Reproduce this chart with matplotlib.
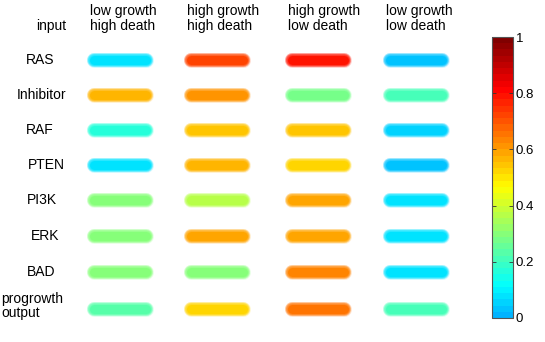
import numpy as np
import matplotlib
matplotlib.use("Agg")
import matplotlib.pyplot as plt
from matplotlib.colors import ListedColormap, Normalize

plt.rcParams['font.family'] = ['Liberation Sans', 'DejaVu Sans']

conditions = ["low growth\nhigh death", "high growth\nhigh death",
              "high growth\nlow death", "low growth\nlow death"]
nodes = ["RAS", "Inhibitor", "RAF", "PTEN", "PI3K", "ERK", "BAD", "progrowth\noutput"]

# activity per node (rows) for each condition (columns)
ras       = [0.08, 0.72, 0.78, 0.04]
inhibitor = [0.57, 0.62, 0.27, 0.20]
raf       = [0.16, 0.55, 0.55, 0.05]
pten      = [0.08, 0.56, 0.53, 0.04]
pi3k      = [0.29, 0.37, 0.59, 0.07]
erk       = [0.29, 0.59, 0.59, 0.07]
bad       = [0.29, 0.29, 0.64, 0.07]
progrowth = [0.24, 0.53, 0.66, 0.20]
values = np.array([ras, inhibitor, raf, pten, pi3k, erk, bad, progrowth])

cbar_ticks = [0, 0.2, 0.4, 0.6, 0.8, 1]
cbar_ticklabels = ["0", "0.2", "0.4", "0.6", "0.8", "1"]

# MATLAB-style jet, truncated at the blue end, banded
def matlab_jet(x):
    x = np.asarray(x)
    r = np.clip(1.5 - np.abs(4 * x - 3), 0, 1)
    g = np.clip(1.5 - np.abs(4 * x - 2), 0, 1)
    b = np.clip(1.5 - np.abs(4 * x - 1), 0, 1)
    return np.stack([r, g, b], axis=-1)

cmap = ListedColormap(matlab_jet(np.linspace(0.3, 1.0, 45)))
norm = Normalize(0, 1)

W, H = 545, 342
fig = plt.figure(figsize=(W / 100, H / 100), dpi=100)
ax = fig.add_axes([0, 0, 1, 1])
ax.set_xlim(0, W)
ax.set_ylim(H, 0)
ax.axis('off')

col_x = [120, 217, 318, 416]
row_y = [60, 95, 130, 165, 200, 236, 272, 309]
half_len = 26
px2pt = 72 / 100

for i, yy in enumerate(row_y):
    for j, xx in enumerate(col_x):
        c = cmap(norm(values[i, j]))
        for wpx, a in [(15, 0.18), (14, 0.25), (13, 0.3), (12, 0.35), (11, 0.4)]:
            ax.plot([xx - half_len, xx + half_len], [yy, yy], color=c, alpha=a,
                    lw=wpx * px2pt, solid_capstyle='round')
        ax.plot([xx - half_len, xx + half_len], [yy, yy], color=c,
                lw=9 * px2pt, solid_capstyle='round')

fs = 10
for j, xx in enumerate(col_x):
    ax.text(xx - 30, 4, conditions[j], ha='left', va='top', fontsize=fs, linespacing=1.05)
ax.text(51, 30, "input", ha='center', va='baseline', fontsize=fs)

label_x = [40, 42, 40, 46, 42, 45, 41]
for i, name in enumerate(nodes[:-1]):
    ax.text(label_x[i], row_y[i], name, ha='center', va='center', fontsize=fs)
ax.text(1, row_y[-1] - 3, nodes[-1], ha='left', va='center', fontsize=fs, linespacing=1.05)

# colorbar
cax = fig.add_axes([492 / W, (H - 318) / H, 21 / W, 281 / H])
sm = plt.cm.ScalarMappable(cmap=cmap, norm=norm)
cb = fig.colorbar(sm, cax=cax, ticks=cbar_ticks)
cb.ax.set_yticklabels(cbar_ticklabels)
cb.outline.set_edgecolor('#555555')
cb.outline.set_linewidth(0.8)
cax.tick_params(direction='in', left=True, right=True, length=3, width=0.6,
                labelsize=9.5, colors='#333333', labelcolor='black', pad=2)

fig.savefig("out.png", dpi=100)
